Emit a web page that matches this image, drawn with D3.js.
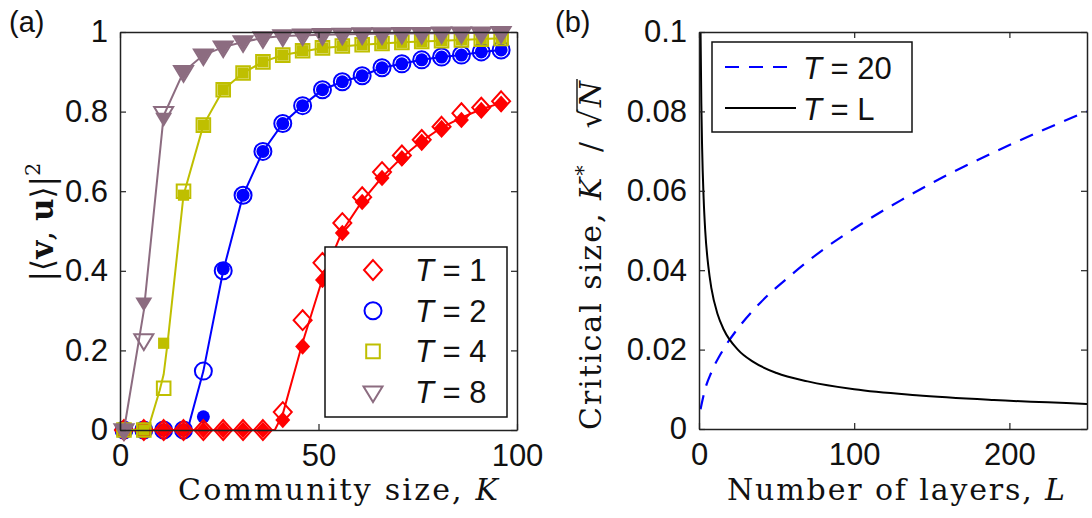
<!DOCTYPE html>
<html>
<head>
<meta charset="utf-8">
<script src="https://cdn.jsdelivr.net/npm/d3@7"></script>
<style>
  body { margin: 0; background: #fff; }
  text { font-family: "Liberation Sans", Arial, sans-serif; fill: #111; }
  .serif { font-family: "DejaVu Serif", "Liberation Serif", serif; }
</style>
</head>
<body>
<div id="chart"></div>
<script>
// ---- panel (a) data ----
var kValues = [1, 6, 11, 16, 21, 26, 31, 36, 41, 46, 51, 56, 61, 66, 71, 76, 81, 86, 91, 96];
var yTicksA = [0, 0.2, 0.4, 0.6, 0.8, 1];
var xTicksA = [0, 50, 100];

// open markers
var openT1 = [0, 0, 0, 0, 0, 0, 0, 0, 0.045, 0.276, 0.42, 0.52, 0.585, 0.648, 0.69, 0.729, 0.762, 0.796, 0.81, 0.826];
var openT2 = [0, 0, 0, 0, 0.148, 0.40, 0.59, 0.70, 0.77, 0.815, 0.855, 0.875, 0.89, 0.91, 0.92, 0.93, 0.937, 0.942, 0.95, 0.955];
var openT4 = [0, 0, 0.105, 0.60, 0.766, 0.855, 0.897, 0.925, 0.942, 0.953, 0.96, 0.965, 0.968, 0.971, 0.974, 0.976, 0.978, 0.98, 0.982, 0.984];
var openT8 = [0, 0.226, 0.797, 0.90, 0.942, 0.962, 0.975, 0.985, 0.99, 0.992, 0.993, 0.994, 0.995, 0.995, 0.996, 0.996, 0.997, 0.997, 0.997, 0.998];
// filled markers
var fillT1 = [0, 0, 0, 0, 0, 0, 0, 0, 0.025, 0.21, 0.377, 0.495, 0.573, 0.633, 0.683, 0.724, 0.759, 0.779, 0.804, 0.82];
var fillT2 = [0, 0, 0, 0, 0.033, 0.405, 0.59, 0.70, 0.77, 0.815, 0.855, 0.875, 0.89, 0.91, 0.92, 0.93, 0.937, 0.942, 0.95, 0.955];
var fillT4 = [0, 0, 0.218, 0.59, 0.766, 0.855, 0.897, 0.925, 0.942, 0.953, 0.96, 0.965, 0.968, 0.971, 0.974, 0.976, 0.978, 0.98, 0.982, 0.984];
var fillT8 = [0, 0.32, 0.784, 0.90, 0.942, 0.962, 0.975, 0.985, 0.99, 0.992, 0.993, 0.994, 0.995, 0.995, 0.996, 0.996, 0.997, 0.997, 0.997, 0.998];
// solid curves
var curveKT1 = [1, 36, 39, 41, 46, 51, 56, 61, 66, 71, 76, 81, 86, 91, 96];
var curveT1 = [0, 0, 0, 0.04, 0.22, 0.38, 0.5, 0.575, 0.635, 0.685, 0.726, 0.76, 0.785, 0.806, 0.822];
var curveKT2 = [1, 17, 21, 26, 31, 36, 41, 46, 51, 56, 61, 66, 71, 76, 81, 86, 91, 96];
var curveT2 = [0, 0, 0.148, 0.40, 0.59, 0.70, 0.77, 0.815, 0.855, 0.875, 0.89, 0.91, 0.92, 0.93, 0.937, 0.942, 0.95, 0.955];
var curveKT4 = [1, 7, 10, 11, 12, 16, 21, 26, 31, 36, 41, 51, 61, 71, 81, 96];
var curveT4 = [0, 0, 0.1, 0.14, 0.22, 0.59, 0.766, 0.855, 0.897, 0.925, 0.942, 0.96, 0.968, 0.974, 0.978, 0.984];
var curveKT8 = [1, 6, 11, 16, 21, 26, 31, 36, 41, 51, 61, 71, 81, 96];
var curveT8 = [0, 0.30, 0.79, 0.90, 0.942, 0.962, 0.975, 0.985, 0.99, 0.993, 0.995, 0.996, 0.997, 0.998];

var seriesNames = ["T = 1", "T = 2", "T = 4", "T = 8"];

// ---- panel (b) data ----
var layersT20 = [1, 4, 8, 15, 25, 40, 60, 80, 100, 130, 160, 190, 220, 250];
var valuesT20 = [0.005, 0.0101, 0.0143, 0.0196, 0.0253, 0.032, 0.039, 0.0452, 0.0505, 0.0576, 0.064, 0.0697, 0.075, 0.080];
var layersTL = [1, 1.5, 2, 3, 4, 6, 8, 12, 16, 25, 35, 50, 70, 100, 140, 190, 250];
var valuesTL = [0.1, 0.082, 0.071, 0.058, 0.05, 0.041, 0.0354, 0.0289, 0.025, 0.02, 0.0169, 0.0141, 0.012, 0.01, 0.0085, 0.0073, 0.0063];
var yTicksB = [0, 0.02, 0.04, 0.06, 0.08, 0.1];
var xTicksB = [0, 100, 200];

function init() {
  var w = 1092, h = 518;

  var svg = d3.select("#chart").append("svg")
    .attr("width", w).attr("height", h);

  // marker shapes (relative to centre)
  function markerPath(shape, s) {
    var p = d3.path();
    if (shape == "diamond") {
      p.moveTo(0, -s * 1.1); p.lineTo(s, 0); p.lineTo(0, s * 1.1); p.lineTo(-s, 0); p.closePath();
    } else if (shape == "circle") {
      p.arc(0, 0, s, 0, 2 * Math.PI);
    } else if (shape == "square") {
      p.rect(-s * 0.8, -s * 0.8, s * 1.6, s * 1.6);
    } else {
      p.moveTo(-s, -s * 0.6); p.lineTo(s, -s * 0.6); p.lineTo(0, s * 1.05); p.closePath();
    }
    return p.toString();
  }

  function drawFrame(g, x, y, xt, yt, xfmt, yfmt) {
    var x0 = x.range()[0], x1 = x.range()[1], y0 = y.range()[0], y1 = y.range()[1];
    g.append("g").attr("transform", "translate(0," + y0 + ")")
      .call(d3.axisBottom(x).tickValues(xt).tickSizeInner(-6).tickSizeOuter(0).tickPadding(14).tickFormat(xfmt));
    g.append("g").attr("transform", "translate(0," + y1 + ")")
      .call(d3.axisTop(x).tickValues(xt).tickSizeInner(-6).tickSizeOuter(0).tickFormat(""));
    g.append("g").attr("transform", "translate(" + x0 + ",0)")
      .call(d3.axisLeft(y).tickValues(yt).tickSizeInner(-6).tickSizeOuter(0).tickPadding(12).tickFormat(yfmt));
    g.append("g").attr("transform", "translate(" + x1 + ",0)")
      .call(d3.axisRight(y).tickValues(yt).tickSizeInner(-6).tickSizeOuter(0).tickFormat(""));
    g.selectAll(".domain").attr("stroke", "#222").attr("stroke-width", 1.5);
    g.selectAll(".tick line").attr("stroke", "#222").attr("stroke-width", 1.2);
    g.selectAll(".tick text").style("font-size", "31px").attr("fill", "#111");
  }

  // ================= panel (a) =================
  var xA = d3.scaleLinear().domain([0, 100]).range([120, 517]);
  var yA = d3.scaleLinear().domain([0, 1]).range([430, 32]);
  var gA = svg.append("g");

  var colors = ["#ff0000", "#0000ff", "#bfbf00", "#8c6c80"];
  var shapes = ["diamond", "circle", "square", "triangle"];
  var openSize = [9, 8.5, 8.5, 9.5];
  var fillSize = [7.5, 6.5, 7, 8.5];
  var opens = [openT1, openT2, openT4, openT8];
  var fills = [fillT1, fillT2, fillT4, fillT8];
  var curveK = [curveKT1, curveKT2, curveKT4, curveKT8];
  var curveV = [curveT1, curveT2, curveT4, curveT8];

  var line = d3.line()
    .x(function(d) { return xA(d[0]); })
    .y(function(d) { return yA(d[1]); });

  var order = [1, 0, 2, 3];
  order.forEach(function(i) {
    gA.append("path")
      .datum(d3.zip(curveK[i], curveV[i]))
      .attr("d", line)
      .attr("fill", "none")
      .attr("stroke", colors[i])
      .attr("stroke-width", 2);

    gA.selectAll(".open" + i)
      .data(d3.zip(kValues, opens[i]))
      .enter().append("path")
      .attr("transform", function(d) { return "translate(" + xA(d[0]) + "," + yA(d[1]) + ")"; })
      .attr("d", markerPath(shapes[i], openSize[i]))
      .attr("fill", "none")
      .attr("stroke", colors[i])
      .attr("stroke-width", 2);

    gA.selectAll(".fill" + i)
      .data(d3.zip(kValues, fills[i]))
      .enter().append("path")
      .attr("transform", function(d) { return "translate(" + xA(d[0]) + "," + yA(d[1]) + ")"; })
      .attr("d", markerPath(shapes[i], fillSize[i]))
      .attr("fill", colors[i])
      .attr("stroke", "none");
  });

  drawFrame(gA, xA, yA, xTicksA, yTicksA, d3.format("d"), function(d) { return d == 0 || d == 1 ? d : d3.format(".1f")(d); });

  // legend (a)
  var legA = gA.append("g");
  legA.append("rect")
    .attr("x", 325).attr("y", 247).attr("width", 182).attr("height", 170)
    .attr("fill", "#fff").attr("stroke", "#111").attr("stroke-width", 1.5);
  seriesNames.forEach(function(name, i) {
    var ly = 270 + i * 40.7;
    legA.append("path")
      .attr("transform", "translate(373," + ly + ")")
      .attr("d", markerPath(shapes[i], openSize[i]))
      .attr("fill", "none").attr("stroke", colors[i]).attr("stroke-width", 2);
    var t = legA.append("text").attr("x", 415).attr("y", ly + 11).style("font-size", "31px");
    t.append("tspan").style("font-style", "italic").text("T");
    t.append("tspan").text(name.slice(1));
  });

  // labels (a)
  svg.append("text").attr("x", 9).attr("y", 32).style("font-size", "29px").text("(a)");
  svg.append("text").attr("class", "serif")
    .attr("x", 178).attr("y", 500)
    .attr("textLength", 320).attr("lengthAdjust", "spacing")
    .style("font-size", "30px")
    .html('Community size, <tspan font-style="italic">K</tspan>');

  var yLabA = svg.append("text").attr("class", "serif")
    .attr("transform", "translate(53,222) rotate(-90)")
    .attr("text-anchor", "middle")
    .style("font-size", "31px");
  yLabA.append("tspan").text("|\u27E8");
  yLabA.append("tspan").style("font-weight", "bold").text("v");
  yLabA.append("tspan").text(", ");
  yLabA.append("tspan").style("font-weight", "bold").text("u");
  yLabA.append("tspan").text("\u27E9|");
  yLabA.append("tspan").attr("dy", -13).style("font-size", "21px").text("2");

  // ================= panel (b) =================
  var xB = d3.scaleLinear().domain([0, 250]).range([699, 1087]);
  var yB = d3.scaleLinear().domain([0, 0.1]).range([429, 32]);
  var gB = svg.append("g");

  var lineB = d3.line()
    .x(function(d) { return xB(d[0]); })
    .y(function(d) { return yB(d[1]); })
    .curve(d3.curveMonotoneX);

  gB.append("path")
    .datum(d3.zip(layersT20, valuesT20))
    .attr("d", lineB)
    .attr("fill", "none").attr("stroke", "#0000ff")
    .attr("stroke-width", 2.2).attr("stroke-dasharray", "14,10");

  gB.append("path")
    .datum(d3.zip(layersTL, valuesTL))
    .attr("d", lineB)
    .attr("fill", "none").attr("stroke", "#000")
    .attr("stroke-width", 2);

  drawFrame(gB, xB, yB, xTicksB, yTicksB, d3.format("d"), function(d) { return d == 0 ? "0" : d == 0.1 ? "0.1" : d3.format(".2f")(d); });

  // legend (b)
  var legB = gB.append("g");
  legB.append("rect")
    .attr("x", 712).attr("y", 42).attr("width", 200).attr("height", 90)
    .attr("fill", "#fff").attr("stroke", "#111").attr("stroke-width", 1.5);
  [["20", "#0000ff", "14,10"], ["L", "#000", null]].forEach(function(d, i) {
    var ly = 67 + i * 41;
    legB.append("line")
      .attr("x1", 725).attr("x2", 796).attr("y1", ly).attr("y2", ly)
      .attr("stroke", d[1]).attr("stroke-width", 2.2)
      .attr("stroke-dasharray", d[2]);
    var t = legB.append("text").attr("x", 803).attr("y", ly + 12).style("font-size", "31px");
    t.append("tspan").style("font-style", "italic").text("T");
    t.append("tspan").text(" = " + d[0]);
  });

  svg.append("text").attr("x", 555).attr("y", 32).style("font-size", "29px").text("(b)");
  svg.append("text").attr("class", "serif")
    .attr("x", 727).attr("y", 500)
    .attr("textLength", 338).attr("lengthAdjust", "spacing")
    .style("font-size", "30px")
    .html('Number of layers, <tspan font-style="italic">L</tspan>');

  // rotated y label for (b) with a hand-drawn radical bar
  var fsB = 30;
  var gLab = svg.append("g").attr("transform", "translate(601,430) rotate(-90)");
  var yLabB = gLab.append("text").attr("class", "serif")
    .style("font-size", fsB + "px").style("letter-spacing", "2px");
  yLabB.append("tspan").text("Critical size, ");
  yLabB.append("tspan").style("font-style", "italic").text("K");
  yLabB.append("tspan").attr("dy", -11).style("font-size", "20px").text("*");
  yLabB.append("tspan").attr("dy", 11).text(" / \u221A");
  yLabB.append("tspan").style("font-style", "italic").text("N");
  var node = yLabB.node();
  var n = node.getNumberOfChars();
  var sqStart = node.getStartPositionOfChar(n - 2).x;
  var sqEnd = node.getEndPositionOfChar(n - 2).x;
  var nEnd = node.getEndPositionOfChar(n - 1).x;
  gLab.append("line")
    .attr("x1", sqStart + (sqEnd - sqStart) * 0.8).attr("x2", nEnd)
    .attr("y1", -fsB * 0.80).attr("y2", -fsB * 0.80)
    .attr("stroke", "#111").attr("stroke-width", 1.4);
}

window.onload = init;
</script>
</body>
</html>
